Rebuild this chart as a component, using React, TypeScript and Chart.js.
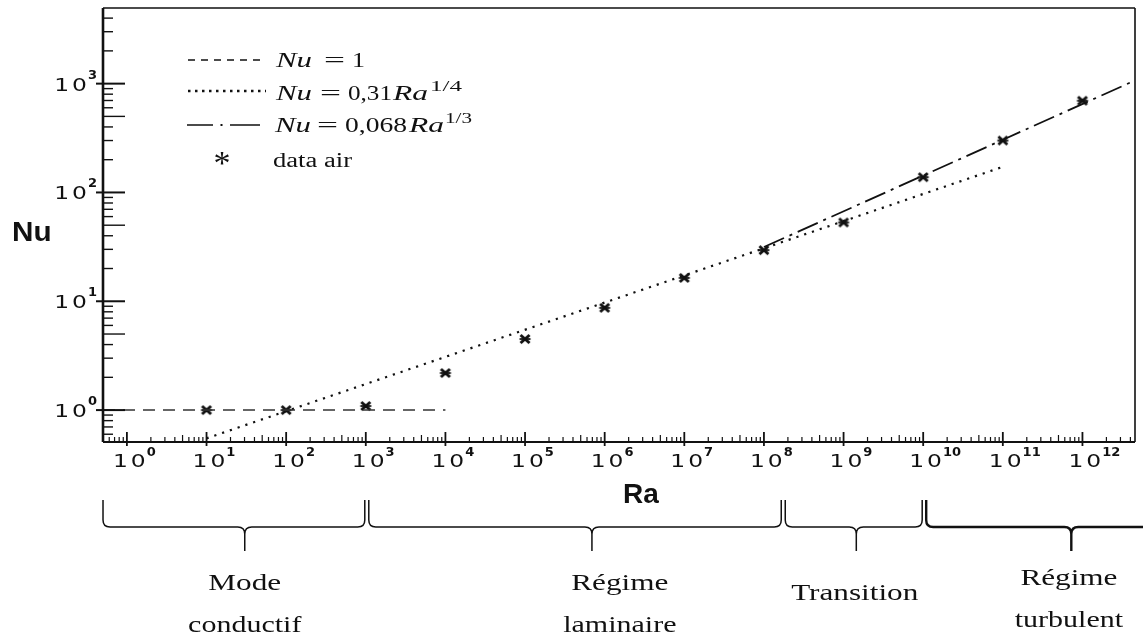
import React, { useEffect, useRef } from "react";
import { Chart, registerables } from "chart.js";

Chart.register(...registerables);

// ---- axis limits (log10 scale) ----
const raMin = 0.501;
const raMax = 4.57e12;
const nuMin = 0.509;
const nuMax = 4955;

// tick decades
const xDecades = [0, 1, 2, 3, 4, 5, 6, 7, 8, 9, 10, 11, 12];
const yDecades = [0, 1, 2, 3];

// measured data (air)
const dataRa = [1e1, 1e2, 1e3, 1e4, 1e5, 1e6, 1e7, 1e8, 1e9, 1e10, 1e11, 1e12];
const dataNu = [1.0, 1.0, 1.09, 2.19, 4.5, 8.7, 16.4, 29.5, 53, 138, 300, 697];

// correlation lines (end points)
const conductRa = [0.501, 1e4];
const conductNu = [1, 1];
const laminarRa = [10, 1e11];
const laminarNu = [0.55, 172];
const turbRa = [1e8, 4.57e12];
const turbNu = [31.5, 1070];

// regime braces (log10 Ra)
const regimeEdges = [-0.3, 3, 8.23, 10, 13.3];
const regimeTips = [1.48, 5.84, 9.16, 11.86];
const regimeLabelPos = [1.48, 6.19, 9.14, 11.83];
const regimeLabels = [["Mode", "conductif"], ["Régime", "laminaire"], ["Transition"], ["Régime", "turbulent"]];

function makeMarker(): HTMLCanvasElement {
  const c = document.createElement("canvas");
  c.width = 16;
  c.height = 16;
  const g = c.getContext("2d")!;
  g.strokeStyle = "#111";
  g.lineWidth = 3;
  g.beginPath();
  g.moveTo(3.5, 4);
  g.lineTo(12.5, 12);
  g.moveTo(12.5, 4);
  g.lineTo(3.5, 12);
  g.stroke();
  g.lineWidth = 1.8;
  g.beginPath();
  g.moveTo(2.5, 8);
  g.lineTo(13.5, 8);
  g.stroke();
  return c;
}

function stretchText(
  ctx: CanvasRenderingContext2D,
  text: string,
  x: number,
  y: number,
  font: string,
  sx: number,
  align: "left" | "center" = "left"
) {
  ctx.save();
  ctx.font = font;
  ctx.textAlign = "left";
  ctx.textBaseline = "alphabetic";
  const w = ctx.measureText(text).width * sx;
  const x0 = align === "center" ? x - w / 2 : x;
  ctx.translate(x0, y);
  ctx.scale(sx, 1);
  ctx.fillText(text, 0, 0);
  ctx.restore();
  return w;
}

function fitText(ctx: CanvasRenderingContext2D, text: string, x: number, y: number, font: string, width: number) {
  ctx.save();
  ctx.font = font;
  const w = ctx.measureText(text).width;
  ctx.restore();
  return stretchText(ctx, text, x, y, font, width / w);
}

const DIGIT_FONT = '18px "DejaVu Sans"';
const DIGIT_SX = 1.3;
const SUP_FONT = 'bold 13px "DejaVu Sans"';

function powWidths(ctx: CanvasRenderingContext2D, exp: number) {
  ctx.font = DIGIT_FONT;
  const w1 = ctx.measureText("1").width * DIGIT_SX;
  const w0 = ctx.measureText("0").width * DIGIT_SX;
  ctx.font = SUP_FONT;
  const ws = ctx.measureText(String(exp)).width;
  return { w1, w0, ws, gap: 3 };
}

function drawPow(ctx: CanvasRenderingContext2D, xLeft: number, base: number, supBase: number, exp: number) {
  const { w1, w0, gap } = powWidths(ctx, exp);
  stretchText(ctx, "1", xLeft, base, DIGIT_FONT, DIGIT_SX);
  stretchText(ctx, "0", xLeft + w1 + gap, base, DIGIT_FONT, DIGIT_SX);
  ctx.font = SUP_FONT;
  ctx.fillText(String(exp), xLeft + w1 + gap + w0 + 1, supBase);
}

function drawBrace(
  ctx: CanvasRenderingContext2D,
  x1: number,
  x2: number,
  xm: number,
  yTop: number,
  yMid: number,
  yTip: number
) {
  const r = 7;
  ctx.beginPath();
  ctx.moveTo(x1, yTop);
  ctx.lineTo(x1, yMid - r);
  ctx.quadraticCurveTo(x1, yMid, x1 + r, yMid);
  ctx.lineTo(xm - r, yMid);
  ctx.quadraticCurveTo(xm, yMid, xm, yMid + r);
  ctx.lineTo(xm, yTip);
  ctx.moveTo(xm, yMid + r);
  ctx.quadraticCurveTo(xm, yMid, xm + r, yMid);
  ctx.lineTo(x2 - r, yMid);
  ctx.quadraticCurveTo(x2, yMid, x2, yMid - r);
  ctx.lineTo(x2, yTop);
  ctx.stroke();
}

const decoPlugin = {
  id: "deco",
  afterDraw(chart: any) {
    const { ctx, chartArea: a, scales } = chart;
    const xs = scales.x;
    const ys = scales.y;
    ctx.save();
    ctx.strokeStyle = "#111";
    ctx.fillStyle = "#111";
    ctx.setLineDash([]);

    // frame
    ctx.lineWidth = 2.6;
    ctx.beginPath();
    ctx.moveTo(a.left, a.top);
    ctx.lineTo(a.left, a.bottom);
    ctx.stroke();
    ctx.lineWidth = 2;
    ctx.beginPath();
    ctx.moveTo(a.left, a.bottom);
    ctx.lineTo(a.right, a.bottom);
    ctx.stroke();
    ctx.lineWidth = 1.6;
    ctx.beginPath();
    ctx.moveTo(a.left, a.top);
    ctx.lineTo(a.right, a.top);
    ctx.moveTo(a.right, a.top);
    ctx.lineTo(a.right, a.bottom);
    ctx.stroke();

    // x ticks
    for (let n = -1; n <= 12; n++) {
      for (let k = 1; k <= 9; k++) {
        const v = k * Math.pow(10, n);
        if (v < raMin || v > raMax) continue;
        const px = xs.getPixelForValue(v);
        ctx.lineWidth = k === 1 ? 1.8 : 1.2;
        ctx.beginPath();
        if (k === 1) {
          ctx.moveTo(px, a.bottom - 10);
          ctx.lineTo(px, a.bottom + 4);
        } else {
          ctx.moveTo(px, a.bottom - (k === 5 ? 7 : 5));
          ctx.lineTo(px, a.bottom);
        }
        ctx.stroke();
      }
    }
    // y ticks
    for (let n = -1; n <= 3; n++) {
      for (let k = 1; k <= 9; k++) {
        const v = k * Math.pow(10, n);
        if (v < nuMin || v > nuMax) continue;
        const py = ys.getPixelForValue(v);
        ctx.lineWidth = k === 1 ? 2 : 1.4;
        ctx.beginPath();
        if (k === 1) {
          ctx.moveTo(a.left - 7, py);
          ctx.lineTo(a.left + 22, py);
        } else {
          ctx.moveTo(a.left, py);
          ctx.lineTo(a.left + (k === 5 ? 22 : 10), py);
        }
        ctx.stroke();
      }
    }

    // tick labels
    for (const n of xDecades) {
      const px = xs.getPixelForValue(Math.pow(10, n));
      drawPow(ctx, px - 14, a.bottom + 25, a.bottom + 14, n);
    }
    for (const n of yDecades) {
      const py = ys.getPixelForValue(Math.pow(10, n));
      const { w1, w0, ws, gap } = powWidths(ctx, n);
      const total = w1 + gap + w0 + 1 + ws;
      drawPow(ctx, a.left - 6 - total, py + 7, py - 5, n);
    }

    // axis titles
    stretchText(ctx, "Nu", 12, 241, 'bold 27px "Liberation Sans"', 1.1);
    stretchText(ctx, "Ra", 623, 503, 'bold 28px "Liberation Sans"', 1.0);

    // legend
    const serif = '22px "Liberation Serif"';
    const serifI = 'italic 22px "Liberation Serif"';
    const supF = '15px "Liberation Serif"';
    ctx.lineWidth = 1.5;
    ctx.setLineDash([7, 6]);
    ctx.beginPath();
    ctx.moveTo(188, 60);
    ctx.lineTo(266, 60);
    ctx.stroke();
    ctx.lineWidth = 2.5;
    ctx.setLineDash([2.5, 4.5]);
    ctx.beginPath();
    ctx.moveTo(188, 91);
    ctx.lineTo(266, 91);
    ctx.stroke();
    ctx.setLineDash([]);
    ctx.lineWidth = 1.5;
    ctx.beginPath();
    ctx.moveTo(187, 125);
    ctx.lineTo(213, 125);
    ctx.moveTo(230, 125);
    ctx.lineTo(260, 125);
    ctx.stroke();
    ctx.fillRect(220.5, 124, 2, 2);

    fitText(ctx, "Nu", 276, 67, serifI, 36);
    fitText(ctx, "=", 324, 67, serif, 21);
    fitText(ctx, "1", 352, 67, serif, 13);

    fitText(ctx, "Nu", 276, 100, serifI, 36);
    fitText(ctx, "=", 320, 100, serif, 21);
    fitText(ctx, "0,31", 348, 100, serif, 44);
    fitText(ctx, "Ra", 393, 100, serifI, 35);
    fitText(ctx, "1/4", 430, 91, supF, 32);

    fitText(ctx, "Nu", 275, 132, serifI, 36);
    fitText(ctx, "=", 317, 132, serif, 21);
    fitText(ctx, "0,068", 345, 132, serif, 62);
    fitText(ctx, "Ra", 409, 132, serifI, 35);
    fitText(ctx, "1/3", 445, 123, supF, 27);

    stretchText(ctx, "*", 222, 174, '34px "Liberation Serif"', 1.0, "center");
    stretchText(ctx, "data air", 273, 167, '20px "Liberation Serif"', 1.33);

    // regime braces
    for (let i = 0; i < regimeTips.length; i++) {
      const x1 = xs.getPixelForValue(Math.pow(10, regimeEdges[i])) + (i === 0 ? 0 : 3);
      const x2 = xs.getPixelForValue(Math.pow(10, regimeEdges[i + 1])) - 1;
      const xm = xs.getPixelForValue(Math.pow(10, regimeTips[i]));
      ctx.lineWidth = i === 3 ? 2.4 : 1.5;
      drawBrace(ctx, x1, x2, xm, 500, 527, 551);
    }
    const lf = '24px "Liberation Serif"';
    for (let i = 0; i < regimeLabels.length; i++) {
      const cx = xs.getPixelForValue(Math.pow(10, regimeLabelPos[i]));
      const lines = regimeLabels[i];
      if (lines.length === 1) {
        stretchText(ctx, lines[0], cx, 600, lf, 1.3, "center");
      } else {
        const b0 = i === 3 ? 585 : 590;
        stretchText(ctx, lines[0], cx, b0, lf, 1.3, "center");
        stretchText(ctx, lines[1], cx, b0 + 42, lf, 1.25, "center");
      }
    }
    ctx.restore();
  },
};

export default function App() {
  const ref = useRef<HTMLCanvasElement>(null);
  useEffect(() => {
    const marker = makeMarker();
    const pts = (xs: number[], ys: number[]) => xs.map((x, i) => ({ x, y: ys[i] }));
    const chart = new Chart(ref.current!, {
      type: "scatter",
      data: {
        datasets: [
          {
            data: pts(conductRa, conductNu),
            showLine: true,
            borderColor: "#333",
            borderWidth: 1.5,
            borderDash: [12, 8],
            pointRadius: 0,
          },
          {
            data: pts(laminarRa, laminarNu),
            showLine: true,
            borderColor: "#111",
            borderWidth: 2.2,
            borderDash: [2.2, 6],
            pointRadius: 0,
          },
          {
            data: pts(turbRa, turbNu),
            showLine: true,
            borderColor: "#111",
            borderWidth: 1.8,
            borderDash: [22, 6, 3, 6],
            pointRadius: 0,
          },
          {
            data: pts(dataRa, dataNu),
            showLine: false,
            pointStyle: marker as any,
            pointRadius: 7,
            borderColor: "#111",
            backgroundColor: "#111",
          },
        ],
      },
      options: {
        responsive: true,
        maintainAspectRatio: false,
        animation: false,
        layout: { padding: { left: 103, top: 6, right: 3, bottom: 195 } },
        plugins: { legend: { display: false }, tooltip: { enabled: false } },
        scales: {
          x: { type: "logarithmic", min: raMin, max: raMax, display: false },
          y: { type: "logarithmic", min: nuMin, max: nuMax, display: false },
        },
      },
      plugins: [decoPlugin],
    });
    return () => chart.destroy();
  }, []);
  return (
    <div style={{ position: "fixed", left: 0, top: 0, width: 1143, height: 637, background: "#fff" }}>
      <canvas ref={ref} />
    </div>
  );
}
